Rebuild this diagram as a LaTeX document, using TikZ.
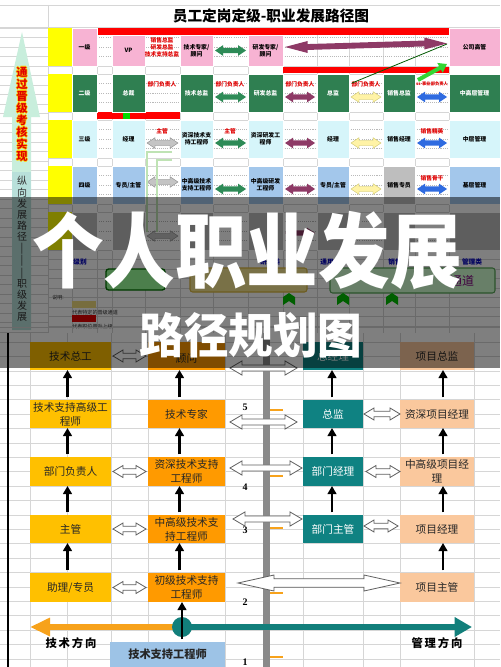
\documentclass[tikz,border=0pt]{standalone}
\usepackage{fontspec}
\setmainfont{Noto Sans CJK SC}
\newfontfamily\numfont{Liberation Serif}
\usetikzlibrary{arrows.meta,calc}
\definecolor{pk}{HTML}{F7B3D3}
\definecolor{dg}{HTML}{2F7F51}
\definecolor{lc}{HTML}{D6F5FA}
\definecolor{lb}{HTML}{A3C7EB}
\definecolor{yl}{HTML}{FFFF00}
\definecolor{rd}{HTML}{FF0000}
\definecolor{rt}{HTML}{E00000}
\definecolor{ag}{HTML}{2E8B57}
\definecolor{ap}{HTML}{8E3A66}
\definecolor{ay}{HTML}{FFF3A6}
\definecolor{ab}{HTML}{2F6BE0}
\definecolor{agr}{HTML}{C4C4C4}
\definecolor{gl}{HTML}{D6D6D6}
\definecolor{cA}{HTML}{FFC000}
\definecolor{cB}{HTML}{FF9A00}
\definecolor{cC}{HTML}{0F8282}
\definecolor{cD}{HTML}{FAC89D}
\definecolor{cE}{HTML}{9DC3E6}
\definecolor{orng}{HTML}{F7A21B}
\definecolor{teal2}{HTML}{127F7B}
\definecolor{barg}{HTML}{8A8A8A}
\definecolor{mint}{HTML}{C8EEDC}
\definecolor{mint2}{HTML}{B8E0DA}
\definecolor{rowg}{HTML}{BDBDBD}
\definecolor{pgreen}{HTML}{BFE3B4}
\newcommand\bx[7]{\node[#6,minimum width={(#4-#2)*0.75pt},minimum height={(#5-#3)*0.75pt}] (#1) at ({(#2+#4)/2},{(#3+#5)/2}) {#7};}
\begin{document}
\begin{tikzpicture}[x=0.75pt,y=-0.75pt,
  gridl/.style={draw=gl,line width=0.4pt},
  dotl/.style={draw=gray!55,line width=0.35pt,dash pattern=on 0.8pt off 0.8pt},
  tb/.style={inner sep=0pt,outer sep=0pt,draw=white,line width=0.3pt,align=center,font=\fontsize{4.4}{5.3}\selectfont\bfseries},
  rtxt/.style={text=rt,font=\fontsize{4.3}{5.2}\selectfont\bfseries,align=center,inner sep=0pt},
  lbl/.style={text=blue!75!black,font=\fontsize{5}{6}\selectfont\bfseries,inner sep=0pt},
  tiny/.style={font=\fontsize{3.8}{4.5}\selectfont,inner sep=0pt,text=black!80},
  harrow/.style n args={3}{to path={let \p1=(\tikztostart),\p2=(\tikztotarget) in (\x1,\y1) -- (\x1+#1,\y1+#2) -- (\x1+#1,\y1+#3) -- (\x2-#1,\y2+#3) -- (\x2-#1,\y2+#2) -- (\x2,\y2) -- (\x2-#1,\y2-#2) -- (\x2-#1,\y2-#3) -- (\x1+#1,\y1-#3) -- (\x1+#1,\y1-#2) -- cycle}},
  sarr/.style={harrow={6pt}{4pt}{1.9pt}},
  larr/.style={harrow={17pt}{4.5pt}{2.2pt}},
  hsm/.style={harrow={7.5pt}{4.5pt}{2pt},fill=white,draw=gray!75!black,line width=0.6pt},
  hmd/.style={harrow={9pt}{5.3pt}{2.3pt},fill=white,draw=gray!75!black,line width=0.6pt},
  hlg/.style={harrow={27pt}{6pt}{3.2pt},fill=white,draw=gray!75!black,line width=0.6pt},
  bb/.style={inner sep=0pt,outer sep=0pt,align=center,text=black!85,font=\fontsize{8}{10.5}\selectfont},
  uarr/.style={line width=1.9pt,-{Triangle[length=6pt,width=6.5pt]},shorten <=2pt},
  ptg/.style={fill=green!70!black}
]
\useasboundingbox (0,0) rectangle (500,667);
\fill[white] (0,0) rectangle (500,667);
% ---------- top spreadsheet ----------
\draw[gridl] (0,5) -- (500,5);
\draw[gridl] (0,27) -- (500,27);
\draw[gridl] (48,5) -- (48,333);
\foreach \k in {0,...,32}{\draw[gridl] (0,{28+9.5*\k}) -- (48,{28+9.5*\k});}
\foreach \x in {72,97,112,145,180,213,248,283,317,349,383,415,449}{\draw[gridl] (\x,27) -- (\x,333);}
\foreach \y in {28,66,74,112,120,158,166,204,212,250}{\draw[gridl] (48,\y) -- (500,\y);}
\foreach \r in {28,74,120,166,212}{\foreach \k in {1,2,3}{\draw[dotl] (97,{\r+9.5*\k}) -- (500,{\r+9.5*\k});}}
\foreach \k in {1,...,8}{\draw[gridl] (48,{250+9.5*\k}) -- (500,{250+9.5*\k});}
\foreach \r in {28,74,120,166,212}{\fill[yl] (48,\r) rectangle (72,{\r+38});}
\node[font=\fontsize{11}{12}\selectfont\bfseries,inner sep=0pt] (title) at (271,16) {员工定岗定级-职业发展路径图};
% red bars
\fill[rd] (97,28) rectangle (449,35);
\fill[rd] (283,67) rectangle (449,73);
\fill[rd] (97,112) rectangle (180,119);
\fill[green!85!black] (123,112) rectangle (130,119);
% row 1
\bx{r1l}{72}{28}{97}{66}{tb,fill=pk}{一级}
\bx{r1a}{112}{35}{145}{66}{tb,fill=pk}{VP}
\node[rtxt] (r1t) at (162,47) {销售总监\\研发总监\\技术支持总监};
\bx{r1b}{180}{35}{213}{66}{tb,fill=pk}{技术专家/\\顾问}
\bx{r1c}{248}{35}{283}{66}{tb,fill=pk}{研发专家/\\顾问}
\bx{r1f}{449}{28}{500}{66}{tb,fill=pk}{公司高管}
% row 2
\bx{r2l}{72}{74}{97}{112}{tb,fill=dg,text=white}{二级}
\bx{r2a}{112}{74}{145}{112}{tb,fill=dg,text=white}{总裁}
\bx{r2b}{180}{74}{213}{112}{tb,fill=dg,text=white}{技术总监}
\bx{r2c}{248}{74}{283}{112}{tb,fill=dg,text=white}{研发总监}
\bx{r2d}{317}{74}{349}{112}{tb,fill=dg,text=white}{总监}
\bx{r2e}{383}{74}{415}{112}{tb,fill=dg,text=white}{销售总监}
\bx{r2f}{449}{74}{500}{112}{tb,fill=dg,text=white}{中高层管理}
\node[rtxt] (r2t1) at (162,84) {部门负责人};
\node[rtxt] (r2t2) at (230,84) {部门负责人};
\node[rtxt] (r2t3) at (300,84) {部门负责人};
\node[rtxt] (r2t4) at (366,84) {部门负责人};
\node[rtxt,font=\fontsize{3.2}{4}\selectfont\bfseries] (r2t5) at (432,84) {ss-事业部负责人};
% row 3
\bx{r3l}{72}{120}{97}{158}{tb,fill=lc}{三级}
\bx{r3a}{112}{120}{145}{158}{tb,fill=lc}{经理}
\bx{r3b}{180}{120}{213}{158}{tb,fill=lc}{资深技术支\\持工程师}
\bx{r3c}{248}{120}{283}{158}{tb,fill=lc}{资深研发工\\程师}
\bx{r3d}{317}{120}{349}{158}{tb,fill=lc}{经理}
\bx{r3e}{383}{120}{415}{158}{tb,fill=lc}{销售经理}
\bx{r3f}{449}{120}{500}{158}{tb,fill=lc}{中层管理}
\node[rtxt] (r3t1) at (162,131) {主管};
\node[rtxt] (r3t2) at (230,131) {主管};
\node[rtxt] (r3t3) at (432,131) {销售精英};
% row 4
\bx{r4l}{72}{166}{97}{204}{tb,fill=lb}{四级}
\bx{r4a}{112}{166}{145}{204}{tb,fill=lb}{专员/主管}
\bx{r4b}{180}{166}{213}{204}{tb,fill=lb}{中高级技术\\支持工程师}
\bx{r4c}{248}{166}{283}{204}{tb,fill=lb}{中高级研发\\工程师}
\bx{r4d}{317}{166}{349}{204}{tb,fill=lb}{专员/主管}
\bx{r4e}{383}{166}{415}{204}{tb,fill=agr!110}{销售专员}
\bx{r4f}{449}{166}{500}{204}{tb,fill=lb}{基层管理}
\node[rtxt] (r4t1) at (432,178) {销售骨干};
% row 5
\bx{r5l}{72}{212}{97}{250}{tb,fill=rowg}{}
\bx{r5a}{112}{212}{145}{250}{tb,fill=rowg}{}
\bx{r5b}{180}{212}{213}{250}{tb,fill=rowg}{}
\bx{r5c}{248}{212}{283}{250}{tb,fill=rowg}{}
\bx{r5d}{317}{212}{349}{250}{tb,fill=rowg}{}
\bx{r5e}{383}{212}{415}{250}{tb,fill=rowg}{}
\bx{r5f}{449}{212}{500}{250}{tb,fill=rowg}{}
% arrows top
\path[sarr,fill=ag] ($(r1b.east)+(2,0)$) to ($(r1c.west)+(-2,0)$);
\path[larr,fill=ap] ($(r1c.east)+(2,-3.5)$) to ($(r1f.west)+(-2,-3.5)$);
\path[sarr,fill=ag] ($(r2b.east)+(2,4)$) to ($(r2c.west)+(-2,4)$);
\path[sarr,fill=ap] ($(r2c.east)+(2,4)$) to ($(r2d.west)+(-2,4)$);
\path[sarr,fill=ay,draw=yellow!50!gray,line width=0.3pt] ($(r2d.east)+(2,4)$) to ($(r2e.west)+(-2,4)$);
\path[sarr,fill=ab] ($(r2e.east)+(2,4)$) to ($(r2f.west)+(-2,4)$);
\path[sarr,fill=agr,draw=gray,line width=0.3pt] ($(r3a.east)+(2,4)$) to ($(r3b.west)+(-2,4)$);
\path[sarr,fill=ag] ($(r3b.east)+(2,4)$) to ($(r3c.west)+(-2,4)$);
\path[sarr,fill=ap] ($(r3c.east)+(2,4)$) to ($(r3d.west)+(-2,4)$);
\path[sarr,fill=ay,draw=yellow!50!gray,line width=0.3pt] ($(r3d.east)+(2,4)$) to ($(r3e.west)+(-2,4)$);
\path[sarr,fill=ab] ($(r3e.east)+(2,4)$) to ($(r3f.west)+(-2,4)$);
\path[sarr,fill=agr,draw=gray,line width=0.3pt] ($(r4a.east)+(2,-3)$) to ($(r4b.west)+(-2,-3)$);
\path[sarr,fill=ag] ($(r4b.east)+(2,4)$) to ($(r4c.west)+(-2,4)$);
\path[sarr,fill=ap] ($(r4c.east)+(2,4)$) to ($(r4d.west)+(-2,4)$);
\path[sarr,fill=ay,draw=yellow!50!gray,line width=0.3pt] ($(r4d.east)+(2,4)$) to ($(r4e.west)+(-2,4)$);
\path[sarr,fill=ab] ($(r4e.east)+(2,4)$) to ($(r4f.west)+(-2,4)$);
\path[sarr,fill=agr,draw=gray,line width=0.3pt] ($(r5a.east)+(2,5)$) to ($(r5b.west)+(-2,5)$);
\path[sarr,fill=ap] ($(r5c.east)+(2,2)$) to ($(r5d.west)+(-2,2)$);
\draw[green!35!black,line width=0.6pt] ($(r2d.east)+(3,-10)$) -- ($(r1f.west)+(-2,-3)$);
\draw[green!80!black!80!white,line width=3pt,-{Triangle[length=6pt,width=8pt]}] ($(r2e.east)+(3,-13)$) -- ($(r1f.south west)+(-2,-2)$);
% pale green path
\draw[pgreen,line width=1.5pt] (172,152) -- (147,152) -- (147,232);
\draw[pgreen,line width=1.5pt] (172,160) -- (157,160) -- (157,232);
% labels row
\node[lbl] (l1) at (80,262) {级别};
\node[lbl] (l2) at (270,262) {研发类};
\node[lbl] (l3) at (327,262) {通用};
\node[lbl] (l4) at (395,262) {销售};
\node[lbl] (l5) at (472,262) {管理类};
% banners
\draw[fill=green!40!white,draw=green!45!black,line width=1pt,rounded corners=2pt] (106,269) rectangle (165,290);
\draw[fill=yellow!60!brown!50!white,draw=yellow!40!brown,line width=0.8pt,rounded corners=2pt] (190,268) rectangle (307,292);
\draw[fill=green!18!white,draw=green!30!gray,line width=0.8pt,rounded corners=2pt] (330,268) rectangle (495,293);
\node[text=violet,font=\fontsize{9}{10}\selectfont\itshape] (bt) at (462,281) {通道};
% legend
\node[tiny,anchor=west] (lg0) at (52,298) {说明:};
\fill[yellow!55!brown!60!white] (72,301) rectangle (96,308);
\node[tiny,anchor=west] (lg1) at (72,312.5) {代表特定的晋级通道};
\fill[red!90!black] (72,315) rectangle (96,322);
\node[tiny,anchor=west] (lg2) at (72,326.5) {代表职位晋升上级};
\foreach \px in {289,343,392}{\fill[green!75!black] (\px,293) -- ({\px+6},297) -- ({\px+6},305) -- (\px,301) -- ({\px-6},305) -- ({\px-6},297) -- cycle;}
% left arrow
\fill[mint] (22,32) -- (40,117) -- (31,117) -- (31,330) -- (12,330) -- (12,117) -- (3,117) -- cycle;
\fill[mint2] (12,172) rectangle (31,330);
\foreach \dx/\dy in {0.8/0,-0.8/0,0/0.8,0/-0.8}{\node[align=center,font=\fontsize{8.4}{9}\selectfont\bfseries,text=yellow!70!orange,inner sep=0pt] at ({22+\dx},{114.5+\dy}) {通\\过\\晋\\级\\考\\核\\实\\现};}
\node[align=center,font=\fontsize{8.4}{9}\selectfont\bfseries,text=rt,inner sep=0pt] (redv) at (22,114.5) {通\\过\\晋\\级\\考\\核\\实\\现};
\node[align=center,font=\fontsize{7.5}{8.3}\selectfont,text=black!80,inner sep=0pt] (darkv) at (22,249) {纵\\向\\发\\展\\路\\径\\|\\|\\|\\职\\级\\发\\展};
% ---------- bottom flowchart ----------
\fill[white] (0,333) rectangle (500,667);
\foreach \k in {-1,...,22}{\draw[gridl] (0,{342+14.4*\k}) -- (500,{342+14.4*\k});}
\foreach \x in {30,67,111,148,225,303,363,400,474}{\draw[gridl] (\x,333) -- (\x,667);}
\draw[black,line width=1.2pt] (8,333) -- (8,667);
\fill[barg] (263,333) rectangle (270,667);
\foreach \ty in {410,476,528,593,657}{\draw[orng,line width=1.1pt] (270,\ty) -- (283,\ty);}
\node[font=\numfont\bfseries\fontsize{7.5}{8}\selectfont] (n5) at (245,407) {5};
\node[font=\numfont\bfseries\fontsize{7.5}{8}\selectfont] (n4) at (245,487) {4};
\node[font=\numfont\bfseries\fontsize{7.5}{8}\selectfont] (n3) at (245,530) {3};
\node[font=\numfont\bfseries\fontsize{7.5}{8}\selectfont] (n2) at (245,602) {2};
\node[font=\numfont\bfseries\fontsize{7.5}{8}\selectfont] (n1) at (245,662) {1};
% boxes
\bx{a5}{30}{342}{111}{370}{bb,fill=cA}{技术总工}
\bx{a4}{30}{400}{111}{428}{bb,fill=cA}{技术支持高级工\\程师}
\bx{a3}{30}{457}{111}{486}{bb,fill=cA}{部门负责人}
\bx{a2}{30}{515}{111}{543}{bb,fill=cA}{主管}
\bx{a1}{30}{573}{111}{602}{bb,fill=cA}{助理/专员}
\bx{b5}{148}{342}{225}{370}{bb,fill=cB}{\mbox{}\\顾问}
\bx{b4}{148}{400}{225}{428}{bb,fill=cB}{技术专家}
\bx{b3}{148}{457}{225}{486}{bb,fill=cB}{资深技术支持\\工程师}
\bx{b2}{148}{515}{225}{543}{bb,fill=cB}{中高级技术支\\持工程师}
\bx{b1}{148}{573}{225}{602}{bb,fill=cB}{初级技术支持\\工程师}
\bx{b0}{110}{642}{225}{667}{bb,fill=cE,font=\fontsize{8.4}{10}\selectfont\bfseries}{技术支持工程师}
\bx{c5}{303}{342}{363}{370}{bb,fill=cC,text=white}{总经理}
\bx{c4}{303}{400}{363}{428}{bb,fill=cC,text=white}{总监}
\bx{c3}{303}{457}{363}{486}{bb,fill=cC,text=white}{部门经理}
\bx{c2}{303}{515}{363}{543}{bb,fill=cC,text=white}{部门主管}
\bx{d5}{400}{342}{474}{370}{bb,fill=cD}{项目总监}
\bx{d4}{400}{400}{474}{428}{bb,fill=cD}{资深项目经理}
\bx{d3}{400}{457}{474}{486}{bb,fill=cD}{中高级项目经\\理}
\bx{d2}{400}{515}{474}{543}{bb,fill=cD}{项目经理}
\bx{d1}{400}{573}{474}{602}{bb,fill=cD}{项目主管}
% vertical arrows
\draw[uarr] ($(a1.north)+(-3,0)$) -- ($(a2.south)+(-3,0)$);
\draw[uarr] ($(a2.north)+(-3,0)$) -- ($(a3.south)+(-3,0)$);
\draw[uarr] ($(a3.north)+(-3,0)$) -- ($(a4.south)+(-3,0)$);
\draw[uarr] ($(a4.north)+(-3,0)$) -- ($(a5.south)+(-3,0)$);
\draw[uarr] ($(b1.north)+(-7,0)$) -- ($(b2.south)+(-7,0)$);
\draw[uarr] ($(b2.north)+(-7,0)$) -- ($(b3.south)+(-7,0)$);
\draw[uarr] ($(b3.north)+(-7,0)$) -- ($(b4.south)+(-7,0)$);
\draw[uarr] ($(b4.north)+(-7,0)$) -- ($(b5.south)+(-7,0)$);
\draw[uarr] ($(c2.north)+(-1,0)$) -- ($(c3.south)+(-1,0)$);
\draw[uarr] ($(c3.north)+(-1,0)$) -- ($(c4.south)+(-1,0)$);
\draw[uarr] ($(c4.north)+(-1,0)$) -- ($(c5.south)+(-1,0)$);
\draw[uarr] ($(d1.north)+(6,0)$) -- ($(d2.south)+(6,0)$);
\draw[uarr] ($(d2.north)+(6,0)$) -- ($(d3.south)+(6,0)$);
\draw[uarr] ($(d3.north)+(6,0)$) -- ($(d4.south)+(6,0)$);
\draw[uarr] ($(d4.north)+(6,0)$) -- ($(d5.south)+(6,0)$);
% hollow double arrows
\path[hsm] ($(a5.east)+(2,0)$) to ($(b5.west)+(-2,0)$);
\path[hsm] ($(a3.east)+(2,0)$) to ($(b3.west)+(-2,0)$);
\path[hsm] ($(a2.east)+(2,0)$) to ($(b2.west)+(-2,0)$);
\path[hsm] ($(a1.east)+(2,0)$) to ($(b1.west)+(-2,0)$);
\path[hmd] ($(b5.east)+(5,12)$) to ($(c5.west)+(-6,12)$);
\path[hmd] ($(b4.east)+(5,8)$) to ($(c4.west)+(-6,8)$);
\path[hmd] ($(b3.east)+(5,-3.5)$) to ($(c3.west)+(-1,-3.5)$);
\path[hmd] ($(b2.east)+(8,-10)$) to ($(c2.west)+(-1,-10)$);
\path[hlg] ($(b1.east)+(13,-4.5)$) to ($(d1.west)+(0,-4.5)$);
\path[hsm] ($(c4.east)+(1,0)$) to ($(d4.west)+(0,0)$);
\path[hsm] ($(c3.east)+(3,0)$) to ($(d3.west)+(0,0)$);
\path[hsm] ($(c2.east)+(1,-3)$) to ($(d2.west)+(-2,-3)$);
% direction arrows
\coordinate (tl) at (30,627);
\coordinate (tr) at (472,627);
\coordinate (dc) at (182,627);
\draw[teal2,line width=4.5pt,-{Triangle[length=13pt,width=14pt]}] (dc) -- (tr);
\draw[orng,line width=5.2pt,-{Triangle[length=15pt,width=13pt]}] (dc) -- (tl);
\node[circle,fill=teal2,minimum size=15pt,inner sep=0pt] (dot) at (dc) {};
\draw[uarr] (b0.north -| dot) -- (b1.south -| dot);
\node[font=\fontsize{8.5}{10}\selectfont\bfseries] (tdir) at (71,643) {技\,术\,方\,向};
\node[font=\fontsize{8.5}{10}\selectfont\bfseries] (mdir) at (437,643) {管\,理\,方\,向};
% ---------- overlay ----------
\fill[black,opacity=0.5] (0,197) rectangle (500,368);
\node[text=white,font=\fontsize{61}{64}\selectfont\bfseries,xscale=0.88,inner sep=0pt] (big1) at (247,251) {个人职业发展};
\node[text=white,font=\fontsize{36}{40}\selectfont\bfseries,xscale=0.93,inner sep=0pt] (big2) at (251,335) {路径规划图};
\end{tikzpicture}
\end{document}
